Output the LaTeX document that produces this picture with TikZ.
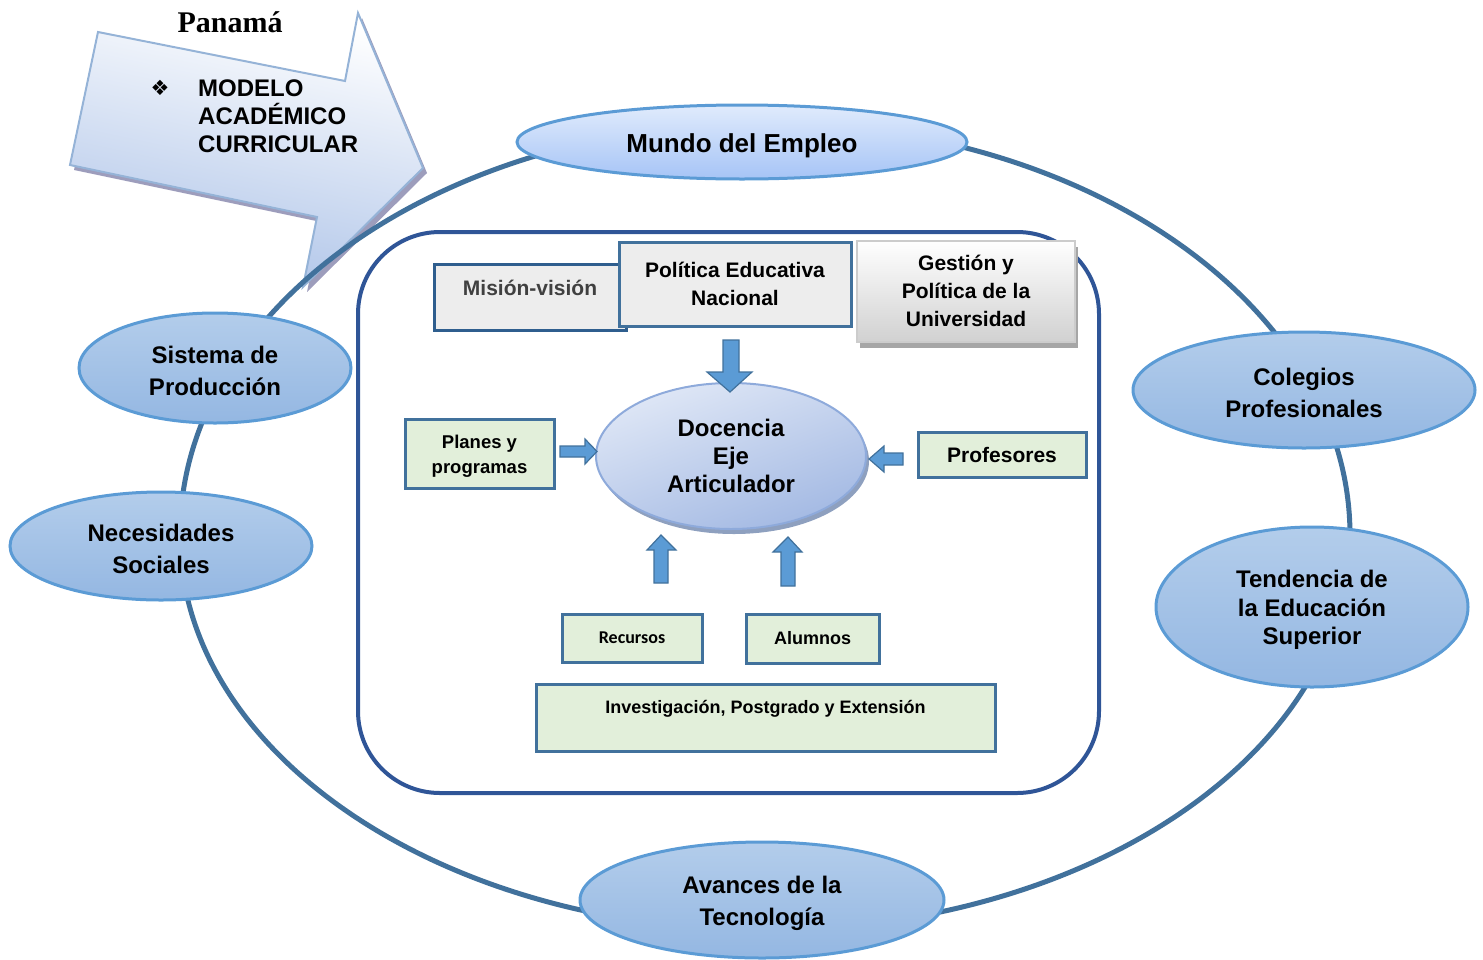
\documentclass[tikz,border=0pt]{standalone}
\usepackage{fontspec}
\setmainfont{Liberation Sans}
\newfontfamily\serifpan{Liberation Serif}
\newfontfamily\dejavu{DejaVu Sans}
\newfontfamily\calib{Carlito}
\usetikzlibrary{shapes.geometric,shadows}
\newcommand\myupstrut[1]{\rule{0pt}{#1}}
\definecolor{ringc}{HTML}{41719C}
\definecolor{ovalline}{HTML}{5B9BD5}
\definecolor{ovaltop}{HTML}{B3CDEB}
\definecolor{ovalbot}{HTML}{94B7E2}
\definecolor{mundotop}{HTML}{E0EBFC}
\definecolor{mundobot}{HTML}{A6C4F6}
\definecolor{framec}{HTML}{2F5597}
\definecolor{greenfill}{HTML}{E2EFDA}
\definecolor{boxline}{HTML}{41719C}
\definecolor{misionline}{HTML}{2F5E8E}
\definecolor{grayfill}{HTML}{EDEDED}
\definecolor{arrowfill}{HTML}{5B9BD5}
\definecolor{bigarrowline}{HTML}{95B3D7}
\definecolor{bigarrowbot}{HTML}{ADC3E8}
\definecolor{docline}{HTML}{8EAADB}
\definecolor{doctop}{HTML}{DFE7F6}
\definecolor{docbot}{HTML}{A3B9E3}
\tikzset{
  oval/.style={ellipse, draw=ovalline, line width=3pt, top color=ovaltop, bottom color=ovalbot,
    inner sep=0pt, align=center, font=\fontsize{24}{32}\selectfont\bfseries},
  greenbox/.style={rectangle, draw=boxline, line width=3pt, fill=greenfill, inner sep=0pt, align=center},
  graybox/.style={rectangle, draw=boxline, line width=3pt, fill=grayfill, inner sep=0pt, align=center},
  barrow/.style={fill=arrowfill, draw=ringc, line width=1.2pt, line join=miter},
}
\begin{document}
\begin{tikzpicture}[x=1pt,y=-1pt]
\useasboundingbox (0,0) rectangle (1483,959);

% big arrow (title)
\fill[black!45!blue!40!gray, opacity=0.55] (102,37) -- (349,86) -- (362,18) -- (427,173) -- (307,292) -- (321,222) -- (74,170) -- cycle;
\draw[bigarrowline, line width=2pt, top color=white, bottom color=bigarrowbot, shading angle=-12]
  (98,32) -- (345,81) -- (358,13) -- (423,168) -- (303,287) -- (317,217) -- (70,165) -- cycle;
\node[font=\serifpan\bfseries\fontsize{30}{34}\selectfont] (pan) at (230,22) {Panamá};
\node[font=\dejavu\fontsize{21}{24}\selectfont] (bul) at (160,88) {❖};
\node[anchor=west, align=left, inner sep=0pt, font=\fontsize{24}{28}\selectfont\bfseries] (mod) at (198,116)
  {MODELO\\ACADÉMICO\\CURRICULAR};

% outer ring (slightly taller upper half)
\draw[ringc, line width=5pt] (1350,535) arc[start angle=0, end angle=-180, x radius=585, y radius=412]
  arc[start angle=180, end angle=0, x radius=585, y radius=395];

% inner frame
\draw[framec, line width=4pt, rounded corners=82pt] (358,232) rectangle (1099,793);

% outer ovals
\node[oval, top color=mundotop, bottom color=mundobot, minimum width=450, minimum height=74,
  font=\fontsize{26}{30}\selectfont\bfseries] (mundo) at (742,142) {\myupstrut{27pt}Mundo del Empleo};
\node[oval, minimum width=272, minimum height=110] (sist) at (215,368) {\myupstrut{23.5pt}Sistema de\\Producción};
\node[oval, minimum width=302, minimum height=108] (nec) at (161,546) {\myupstrut{23.5pt}Necesidades\\Sociales};
\node[oval, minimum width=342, minimum height=116] (col) at (1304,390) {\myupstrut{23.5pt}Colegios\\Profesionales};
\node[oval, minimum width=312, minimum height=160, font=\fontsize{24}{28.5}\selectfont\bfseries] (tend) at (1312,607) {\myupstrut{23.5pt}Tendencia de\\la Educación\\Superior};
\node[oval, minimum width=364, minimum height=116] (avan) at (762,900) {\myupstrut{23.5pt}Avances de la\\Tecnología};

% top boxes
\node[graybox, draw=misionline, text=black!75, minimum width=192, text height=31.5, text depth=34.5,
  font=\fontsize{21}{28}\selectfont\bfseries] (mision) at (530,297) {Misión-visión};
\node[graybox, minimum width=232, minimum height=84, font=\fontsize{21}{28}\selectfont\bfseries] (pol) at (735,284) {Política Educativa\\Nacional};
\node[rectangle, draw=black!20, line width=2pt, top color=white, bottom color=black!18, inner sep=0pt, align=center,
  minimum width=218, minimum height=101, font=\fontsize{21}{28}\selectfont\bfseries,
  drop shadow={shadow xshift=3pt, shadow yshift=-6pt, fill=black!35, opacity=1}] (gest) at (966,291) {Gestión y\\Política de la\\Universidad};

% central ellipse
\node[ellipse, draw=docline, line width=2pt, top color=doctop, bottom color=docbot, shading angle=20,
  inner sep=0pt, align=center, minimum width=270, minimum height=146,
  font=\fontsize{24}{28}\selectfont\bfseries,
  drop shadow={shadow xshift=3pt, shadow yshift=-5pt, fill=docline!80!black, opacity=0.8}] (doc) at (731,456) {Docencia\\Eje\\Articulador};

% side and bottom boxes
\node[greenbox, minimum width=149, minimum height=69, font=\fontsize{18.5}{25}\selectfont\bfseries] (plan) at (479.5,453.5) {\myupstrut{19.5pt}Planes y\\programas};
\node[greenbox, minimum width=168, minimum height=45, font=\fontsize{21}{25}\selectfont\bfseries] (prof) at (1002,454.5) {Profesores};
\node[greenbox, minimum width=140, minimum height=48, font=\calib\fontsize{18}{22}\selectfont\bfseries] (rec) at (632,638) {Recursos};
\node[greenbox, minimum width=133, minimum height=49, font=\fontsize{18}{22}\selectfont\bfseries] (alu) at (812.5,638.5) {Alumnos};
\node[greenbox, minimum width=459, text height=29.5, text depth=37.5, font=\fontsize{18}{22}\selectfont\bfseries] (inv) at (765.5,717.5) {Investigación, Postgrado y Extensión};

% block arrows
\draw[barrow] (723,340) -- (739,340) -- (739,372) -- (752,372) -- (730,392) -- (707,372) -- (723,372) -- cycle;
\draw[barrow] (560,446) -- (585,446) -- (585,439) -- (597,451.5) -- (585,464) -- (585,457) -- (560,457) -- cycle;
\draw[barrow] (903,453) -- (884,453) -- (884,446) -- (869,459) -- (884,472) -- (884,465) -- (903,465) -- cycle;
\draw[barrow] (654,583) -- (654,550) -- (647,550) -- (661,535) -- (676,550) -- (668,550) -- (668,583) -- cycle;
\draw[barrow] (781,586) -- (781,552) -- (773,552) -- (788,537) -- (802,552) -- (795,552) -- (795,586) -- cycle;
\end{tikzpicture}
\end{document}
